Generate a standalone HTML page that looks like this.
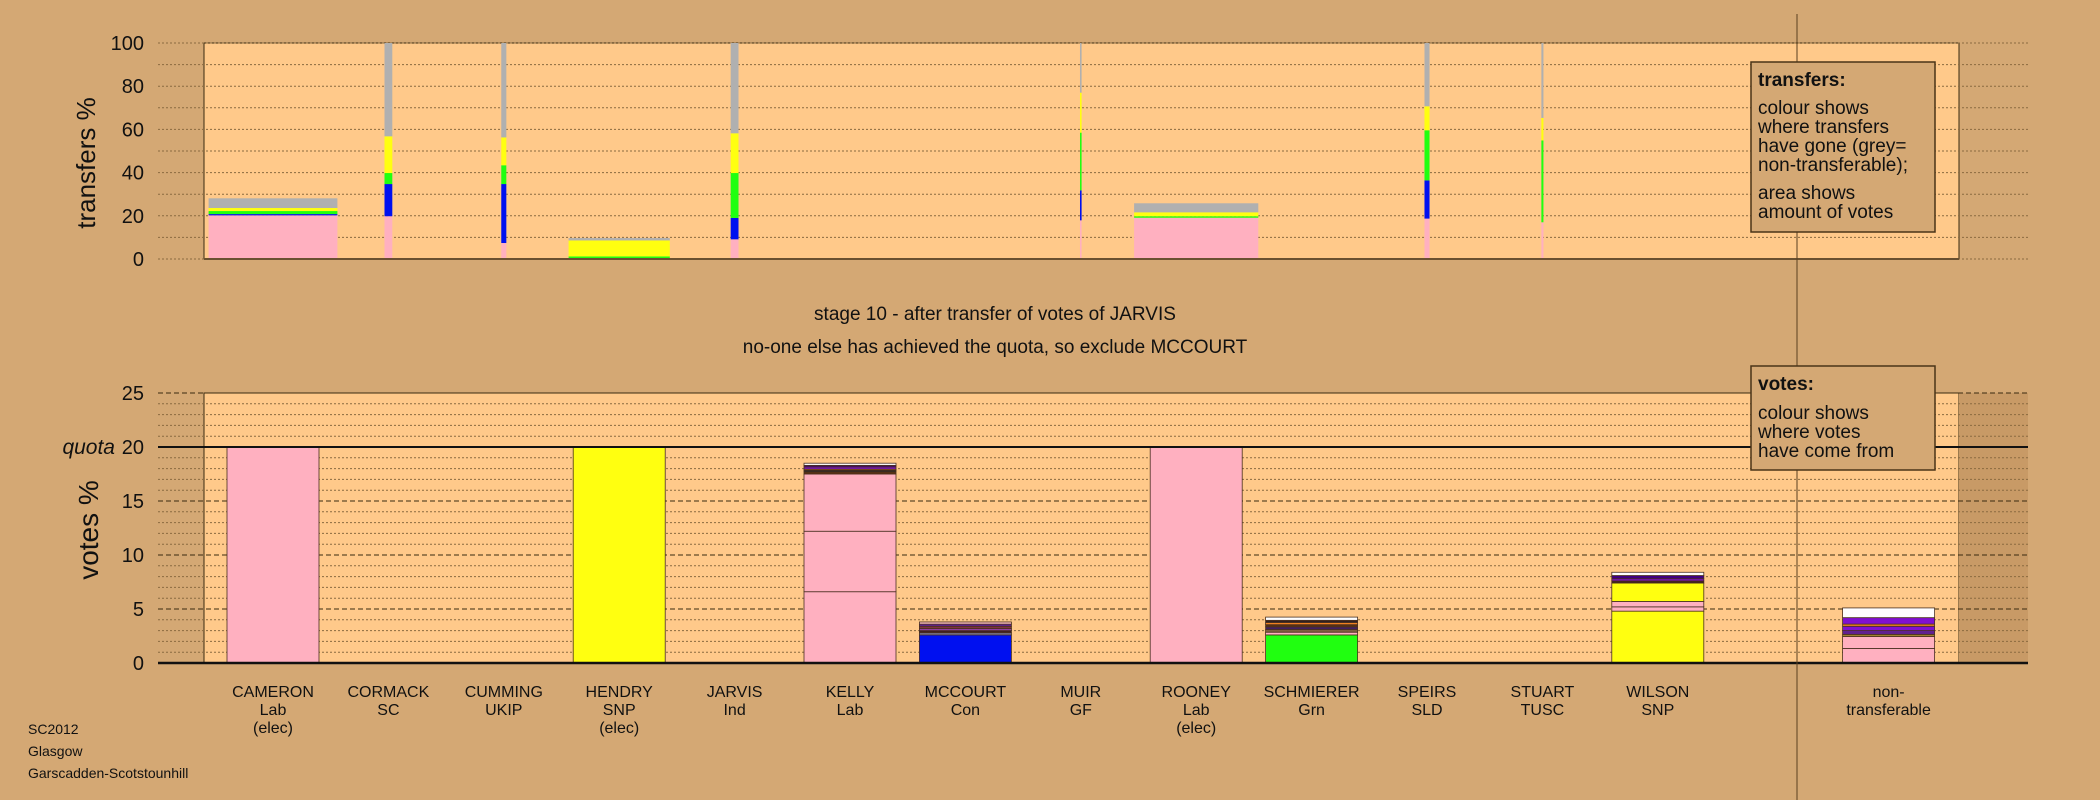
<!DOCTYPE html>
<html><head><meta charset="utf-8"><style>
html,body{margin:0;padding:0;background:#D4A874;}
svg{display:block;font-family:"Liberation Sans",Arial,sans-serif;}
</style></head><body>
<svg id="chart" width="2100" height="800" viewBox="0 0 2100 800" xmlns="http://www.w3.org/2000/svg">
<rect width="2100" height="800" fill="#D4A874"/>
<g id="topg"></g><g id="botg"></g><g id="labels"></g>
</svg>
<script>
const categories=["CAMERON","CORMACK","CUMMING","HENDRY","JARVIS","KELLY","MCCOURT","MUIR","ROONEY","SCHMIERER","SPEIRS","STUART","WILSON"];
const parties=["Lab","SC","UKIP","SNP","Ind","Lab","Con","GF","Lab","Grn","SLD","TUSC","SNP"];
const elected=[true,false,false,true,false,false,false,false,true,false,false,false,false];
const topTicks=[0,20,40,60,80,100];
const botTicks=[0,5,10,15,20,25];
const quota=20;
// transfer amounts (width) per candidate
const transferAmount=[28,1.7,1.1,22,1.7,0,0,0.35,27,0,1.1,0.45,0];
// cumulative tops of transfer stacks (%)
const tPink=[20.2,19.8,7.4,0.2,9.1,0,0,17.9,19.1,0,18.7,17,0];
const tBlue=[20.8,34.7,34.7,0.2,19.0,0,0,31.8,19.1,0,36.4,17,0];
const tGreen=[22.2,39.8,43.4,1.2,39.8,0,0,58.5,19.8,0,59.6,54.9,0];
const tYellow=[23.6,56.8,56.3,8.6,58.2,0,0,77,21.6,0,70.7,65.3,0];
const tGrey=[28.1,100,100,9.7,100,0,0,100,25.8,0,100,100,0];
// votes stacks: [topValue,color]
const vCAMERON=[[20,"#FFB0C0"]];
const vHENDRY=[[20,"#FFFF10"]];
const vROONEY=[[20,"#FFB0C0"]];
const vKELLY=[[6.6,"#FFB0C0"],[12.2,"#FFB0C0"],[17.5,"#FFB0C0"],[17.7,"#5a3010"],[17.85,"#222"],[17.95,"#f08020"],[18.15,"#8010d0"],[18.3,"#400080"],[18.5,"#ffffff"]];
const vMCCOURT=[[2.6,"#0010F0"],[2.8,"#8080a0"],[3.0,"#402020"],[3.2,"#9040a0"],[3.4,"#803040"],[3.6,"#602090"],[3.8,"#ffc0c0"]];
const vSCHMIERER=[[2.6,"#20FF10"],[2.85,"#FFB0C0"],[3.1,"#806040"],[3.35,"#402060"],[3.55,"#5a3010"],[3.75,"#f08020"],[3.95,"#302020"],[4.25,"#ffffff"]];
const vWILSON=[[4.8,"#FFFF10"],[5.2,"#FFB0C0"],[5.7,"#FFB0C0"],[7.4,"#FFFF10"],[7.6,"#402020"],[7.8,"#8010d0"],[8.1,"#400080"],[8.4,"#ffffff"]];
const vNONTRANS=[[1.35,"#FFB0C0"],[2.45,"#FFB0C0"],[2.65,"#a08030"],[3.0,"#602090"],[3.4,"#8010d0"],[3.6,"#f08020"],[4.2,"#8010d0"],[5.1,"#ffffff"]];
const voteStacks={0:vCAMERON,3:vHENDRY,5:vKELLY,6:vMCCOURT,8:vROONEY,9:vSCHMIERER,12:vWILSON,14:vNONTRANS};

const NS="http://www.w3.org/2000/svg";
function mk(parent,tag,attrs){const e=document.createElementNS(NS,tag);for(const k in attrs)e.setAttribute(k,attrs[k]);parent.appendChild(e);return e;}
const topG=document.getElementById('topg'),botG=document.getElementById('botg'),lab=document.getElementById('labels');
const PL=204,PR=1959,GL=158,GR=2028;
const xC=i=>273+115.4*i;
const yT=v=>259-v*2.16;
const yB=v=>663-v*10.8;
const PX_PER_AMT=4.6;

// top plot
let r=mk(topG,'rect',{x:PL,y:yT(100),width:PR-PL,height:yT(0)-yT(100),fill:"#FFC98A",stroke:"#3a2a10","stroke-width":1});


for(let v=0;v<=100;v+=10){let l=mk(topG,'line',{x1:GL,x2:GR,y1:yT(v),y2:yT(v),stroke:"#8a6a40","stroke-width":1,"stroke-dasharray":"2,2"});

}
topTicks.forEach(v=>{let t=mk(topG,'text',{x:144,y:yT(v)+7,"text-anchor":"end","font-size":20,fill:"#111"});t.textContent=v;

});
let ty=mk(topG,'text',{x:0,y:0,"font-size":26,fill:"#111","text-anchor":"middle",transform:"translate(95,163) rotate(-90)"});ty.textContent="transfers %";


const tSeries=[[tPink,"#FFB0C0"],[tBlue,"#0010F0"],[tGreen,"#20FF10"],[tYellow,"#FFFF10"],[tGrey,"#B0B0B0"]];
categories.forEach((c,i)=>{
 const w=transferAmount[i]*PX_PER_AMT; if(w<=0) return;
 let prev=0;
 tSeries.forEach(([arr,col])=>{const v=arr[i];if(v>prev){
  let b=mk(topG,'rect',{x:xC(i)-w/2,y:yT(v),width:w,height:yT(prev)-yT(v),fill:col});
  
  prev=v;}});
});
mk(topG,'line',{x1:PL,x2:PR,y1:yT(0),y2:yT(0),stroke:"#6a5030","stroke-width":2});

// bottom plot
r=mk(botG,'rect',{x:PL,y:yB(25),width:PR-PL,height:yB(0)-yB(25),fill:"#FFC98A",stroke:"#3a2a10","stroke-width":1});


mk(botG,'rect',{x:PR,y:yB(25),width:GR-PR,height:yB(0)-yB(25),fill:"#C89A66"});
for(let v=0;v<=25;v++){let five=v%5==0;let l=mk(botG,'line',{x1:GL,x2:GR,y1:yB(v),y2:yB(v),stroke:five?"#3a2a10":"#8a6a40","stroke-width":1,"stroke-dasharray":five?"5,3":"2,2"});

}
botTicks.forEach(v=>{let t=mk(botG,'text',{x:144,y:yB(v)+7,"text-anchor":"end","font-size":20,fill:"#111"});t.textContent=v;

});
let qt=mk(botG,'text',{x:115,y:yB(quota)+7,"text-anchor":"end","font-size":21,"font-style":"italic",fill:"#111"});qt.textContent="quota";


let vy=mk(botG,'text',{x:0,y:0,"font-size":28,fill:"#111","text-anchor":"middle",transform:"translate(98,530) rotate(-90)"});vy.textContent="votes %";


for(const k in voteStacks){const i=+k;let prev=0;
 voteStacks[k].forEach(([v,col])=>{let b=mk(botG,'rect',{x:xC(i)-46,y:yB(v),width:92,height:yB(prev)-yB(v),fill:col,stroke:"#4a3020","stroke-width":0.8});
 
 prev=v;});}
let ql=mk(botG,'line',{x1:GL,x2:GR,y1:yB(quota),y2:yB(quota),stroke:"#111","stroke-width":2});


mk(botG,'line',{x1:GL,x2:GR,y1:yB(0),y2:yB(0),stroke:"#111","stroke-width":2.5});

// category labels
categories.forEach((c,i)=>{const lines=[c,parties[i]];if(elected[i])lines.push("(elec)");
 lines.forEach((s,j)=>{let t=mk(lab,'text',{x:xC(i),y:697+j*18,"text-anchor":"middle","font-size":16,fill:"#111"});t.textContent=s;
 
 });});
["non-","transferable"].forEach((s,j)=>{let t=mk(lab,'text',{x:xC(14),y:697+j*18,"text-anchor":"middle","font-size":16,fill:"#111"});t.textContent=s;
 
 });

// divider
let dv=mk(lab,'line',{x1:1797,x2:1797,y1:14,y2:800,stroke:"#5a4020","stroke-width":1});



// titles
[["stage 10 - after transfer of votes of JARVIS",320],["no-one else has achieved the quota, so exclude MCCOURT",353]].forEach(([s,y])=>{
 let t=mk(lab,'text',{x:995,y:y,"text-anchor":"middle","font-size":19,fill:"#111"});t.textContent=s;
 
 });
// footer
[["SC2012",734],["Glasgow",756],["Garscadden-Scotstounhill",778]].forEach(([s,y])=>{
 let t=mk(lab,'text',{x:28,y:y,"font-size":14,fill:"#111"});t.textContent=s;
 
 });

// legends
function legend(y1,h,title,lines,name){
 let b=mk(lab,'rect',{x:1751,y:y1,width:184,height:h,fill:"#D4A874",stroke:"#4a3418","stroke-width":1.5});
 
 
 let t=mk(lab,'text',{x:1758,y:y1+24,"font-size":19,"font-weight":"bold",fill:"#111"});t.textContent=title;
 
 
 lines.forEach(([s,yy])=>{let u=mk(lab,'text',{x:1758,y:y1+yy,"font-size":19,fill:"#111"});u.textContent=s;
 
 });
}
legend(62,170,"transfers:",[["colour shows",52],["where transfers",71],["have gone (grey=",90],["non-transferable);",109],["area shows",137],["amount of votes",156]],"transfers-legend");
legend(366,104,"votes:",[["colour shows",53],["where votes",72],["have come from",91]],"votes-legend");
</script>
</body></html>
